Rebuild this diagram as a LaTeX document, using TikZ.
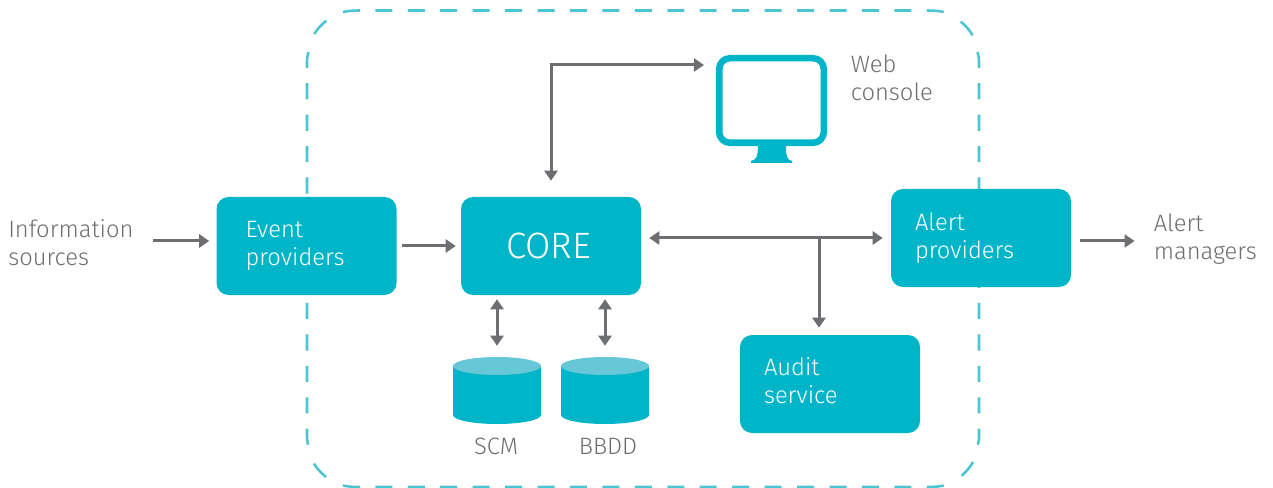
\documentclass[tikz,border=0pt]{standalone}
\usepackage{fontspec}
\setmainfont{Fira Sans}[UprightFont=* Light]
\usetikzlibrary{arrows.meta}
\definecolor{boxc}{HTML}{00B5C8}
\definecolor{topc}{HTML}{66C7D7}
\definecolor{dashc}{HTML}{4CC5D2}
\definecolor{greyc}{HTML}{6D6E71}
\tikzset{
 x=0.75pt,y=-0.75pt,
 boxnode/.style={fill=boxc,rounded corners=9pt,minimum width=135pt,minimum height=73.5pt,text=white,inner xsep=21.75pt,inner ysep=0pt,text width=91.5pt,align=left,font=\fontsize{17.8pt}{21pt}\selectfont},
 narrowpad/.style={inner xsep=18pt,text width=99pt},
 label/.style={inner sep=0pt,text=greyc,align=left,anchor=west,font=\fontsize{17.8pt}{21pt}\selectfont},
 arr/.style={draw=greyc,line width=2.25pt,-{Triangle[width=9.75pt,length=7.5pt]}},
 biarr/.style={draw=greyc,line width=2.25pt,{Triangle[width=9.75pt,length=7.5pt]}-{Triangle[width=9.75pt,length=7.5pt]}},
 cylnode/.style={inner sep=0pt,minimum width=66pt,minimum height=50.25pt},
 frameh/.style={dashc,line width=1.9pt,dash pattern=on 12.75pt off 11.58pt},
 framev/.style={dashc,line width=1.9pt,dash pattern=on 12.15pt off 11.4pt},
 framec/.style={dashc,line width=1.9pt},
}
\newcommand{\cyl}[2]{%
 \fill[boxc] (#2,415) ellipse[x radius=44,y radius=9];
 \fill[boxc] (#2-44,366) rectangle (#2+44,415);
 \fill[topc] (#2,366) ellipse[x radius=44,y radius=9];
 \node[cylnode] (#1) at (#2,390.5) {};}
\begin{document}
\begin{tikzpicture}
\useasboundingbox (0,0) rectangle (1273,488);
% dashed frame: four sides and four corner dashes
\draw[frameh] (343,12) .. controls (347.5,11) and (352,10.5) .. (358,10.5) -- (928,10.5) .. controls (934,10.5) and (939.5,11) .. (944,12);
\draw[frameh] (343,485.5) .. controls (347.5,486.5) and (352,487) .. (358,487) -- (928,487) .. controls (934,487) and (939.5,486.5) .. (944,485.5);
\draw[framev] (308.5,52) .. controls (307.5,55) and (307,58) .. (307,62) -- (307,436) .. controls (307,440) and (307.5,443) .. (308.5,446);
\draw[framev] (977.5,52) .. controls (978.5,55) and (979,58) .. (979,62) -- (979,436) .. controls (979,440) and (978.5,443) .. (977.5,446);
\draw[framec] (358,62) ++(212.6:52) arc[start angle=212.6,end angle=232.6,radius=52];
\draw[framec] (928,62) ++(309:52) arc[start angle=309,end angle=329,radius=52];
\draw[framec] (928,436) ++(30:52) arc[start angle=30,end angle=50,radius=52];
\draw[framec] (358,436) ++(128:52) arc[start angle=128,end angle=148,radius=52];
% boxes
\node[boxnode] (event) at (306.5,246) {Event\\providers};
\node[boxnode,inner xsep=33.75pt,text width=67.5pt,font=\fontsize{27.5pt}{32pt}\selectfont] (core) at (551,246) {CORE};
\node[boxnode,narrowpad] (alert) at (981,238) {Alert\\providers};
\node[boxnode,narrowpad] (audit) at (830,384) {Audit\\service\par\vspace{4.5pt}};
% labels
\node[label] (info) at (8,243) {Information\\sources};
\node[label] (mgrs) at (1153.5,239) {Alert\\managers};
\node[label] (web) at (850.5,78) {Web\\console};
\node[label,anchor=base,align=center] (scmt) at (496,454.5) {SCM};
\node[label,anchor=base,align=center] (bbddt) at (608,454.5) {BBDD};
% monitor
\fill[boxc] (758,146) -- (786,146) .. controls (786,156) and (787,160) .. (792,161) -- (792,163) -- (751,163) -- (751,161) .. controls (756,160) and (758,156) .. (758,146) -- cycle;
\node[draw=boxc,fill=white,line width=4.9pt,rounded corners=8pt,minimum width=78.4pt,minimum height=63.4pt,inner sep=0pt] (mon) at (771.5,100.5) {};
% cylinders
\cyl{scm}{497}
\cyl{bbdd}{605}
% coordinates
\coordinate (a1) at (0,241);
\coordinate (a2) at (0,238);
\coordinate (junc) at (819,238);
\coordinate (elbow) at (551,65);
% connectors
\draw[arr,shorten <=14.25pt,shorten >=5.25pt] (info.east |- a1) -- (event.west |- a1);
\draw[arr,shorten <=3.75pt,shorten >=3.75pt] (event) -- (core);
\draw[biarr,shorten <=6pt,shorten >=6pt] (core.east |- a2) -- (alert.west |- a2);
\draw[arr,shorten >=5.25pt] (junc) -- (junc |- audit.north);
\draw[arr,shorten <=6.75pt,shorten >=14.25pt] (alert.east |- a1) -- (mgrs.west |- a1);
\draw[biarr,shorten <=12pt,shorten >=9pt] (core.north) -- (elbow) -- (mon.west |- elbow);
\draw[biarr,shorten <=3pt,shorten >=8.25pt] (scm.north |- core.south) -- (scm.north);
\draw[biarr,shorten <=3pt,shorten >=8.25pt] (bbdd.north |- core.south) -- (bbdd.north);
\end{tikzpicture}
\end{document}
